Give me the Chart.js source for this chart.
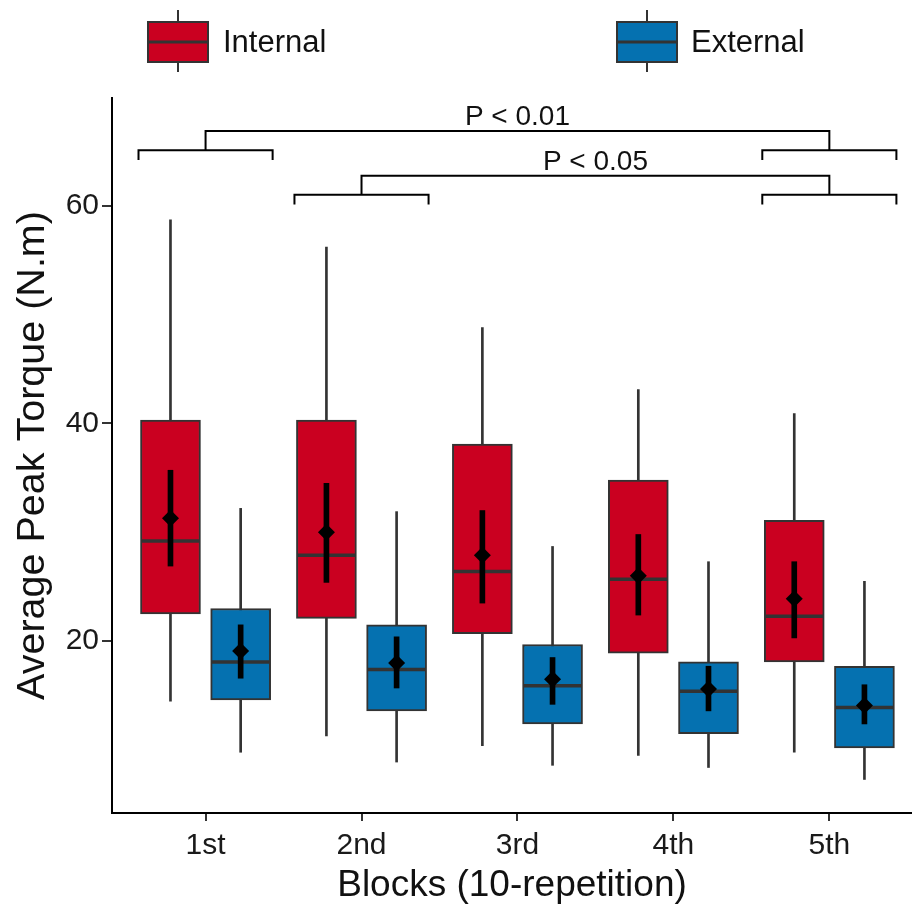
<!DOCTYPE html>
<html><head><meta charset="utf-8">
<script src="https://cdn.jsdelivr.net/npm/chart.js@4.4.1/dist/chart.umd.min.js"></script>
<style>html,body{margin:0;padding:0;background:#fff;overflow:hidden}</style>
</head><body>
<canvas id="c" width="912" height="911"></canvas>
<script>
// ---------- data ----------
const categories = ['1st', '2nd', '3rd', '4th', '5th'];
const groups = ['Internal', 'External'];
const yTicks = [20, 40, 60];

const internalWhiskerLow  = [14.5, 11.3, 10.4, 9.5, 9.8];
const internalQ1          = [22.5, 22.1, 20.7, 18.9, 18.1];
const internalMedian      = [29.2, 27.9, 26.4, 25.7, 22.3];
const internalQ3          = [40.3, 40.3, 38.1, 34.8, 31.1];
const internalWhiskerHigh = [58.7, 56.2, 48.8, 43.1, 40.9];
const internalMean        = [31.3, 30.0, 27.9, 26.0, 23.9];
const internalErrLow      = [26.9, 25.4, 23.5, 22.4, 20.3];
const internalErrHigh     = [35.7, 34.5, 32.0, 29.8, 27.3];

const externalWhiskerLow  = [9.8, 8.9, 8.6, 8.4, 7.3];
const externalQ1          = [14.6, 13.6, 12.4, 11.5, 10.2];
const externalMedian      = [18.1, 17.4, 15.9, 15.4, 13.9];
const externalQ3          = [23.0, 21.5, 19.7, 18.1, 17.7];
const externalWhiskerHigh = [32.2, 31.9, 28.7, 27.3, 25.5];
const externalMean        = [19.1, 18.0, 16.5, 15.6, 14.1];
const externalErrLow      = [16.6, 15.7, 14.2, 13.6, 12.4];
const externalErrHigh     = [21.5, 20.4, 18.5, 17.7, 16.0];

// significance comparisons (category indices) and labels / bracket levels
const sigFrom   = [0, 1];
const sigTo     = [4, 4];
const sigLabels = ['P < 0.01', 'P < 0.05'];
const sigLevels = [65.1, 61.0];

// ---------- styling / layout ----------
const FONT = "'Liberation Sans', Arial, Helvetica, sans-serif";
const COLORS = ['#CA0020', '#0571B0'];
const EDGE = '#333333';
const DODGE = 0.225;      // category units
const BRACKET_HALF = 0.43;
const TIP = 0.9, RISE = 1.75;

const seriesData = [
  {wl: internalWhiskerLow, q1: internalQ1, med: internalMedian, q3: internalQ3, wh: internalWhiskerHigh, mean: internalMean, el: internalErrLow, eh: internalErrHigh},
  {wl: externalWhiskerLow, q1: externalQ1, med: externalMedian, q3: externalQ3, wh: externalWhiskerHigh, mean: externalMean, el: externalErrLow, eh: externalErrHigh}
];

const datasets = [];
seriesData.forEach((s, g) => {
  const off = g === 0 ? -DODGE : DODGE;
  const xs = categories.map((_, i) => i + off);
  datasets.push({ type: 'bar', label: groups[g] + ' whisker', grouped: false, barThickness: 2,
    data: xs.map((x, i) => ({x, y: [s.wl[i], s.wh[i]]})), backgroundColor: EDGE, borderWidth: 0, order: 6 });
  datasets.push({ type: 'bar', label: groups[g], grouped: false, barThickness: 60,
    data: xs.map((x, i) => ({x, y: [s.q1[i], s.q3[i]]})), backgroundColor: COLORS[g],
    borderColor: EDGE, borderWidth: 2, borderSkipped: false, order: 5 });
  datasets.push({ type: 'line', label: groups[g] + ' median', showLine: false,
    data: xs.map((x, i) => ({x, y: s.med[i]})), pointStyle: 'line', pointRadius: 29,
    borderColor: EDGE, pointBorderColor: EDGE, pointBorderWidth: 3.5, order: 4 });
  datasets.push({ type: 'bar', label: groups[g] + ' error', grouped: false, barThickness: 5,
    data: xs.map((x, i) => ({x, y: [s.el[i], s.eh[i]]})), backgroundColor: '#000', borderWidth: 0, order: 3 });
  datasets.push({ type: 'line', label: groups[g] + ' mean', showLine: false,
    data: xs.map((x, i) => ({x, y: s.mean[i]})), pointStyle: 'rectRot', pointRadius: 8.5,
    pointBackgroundColor: '#000', pointBorderColor: '#000', pointBorderWidth: 0, order: 2 });
});

// significance brackets
sigFrom.forEach((a, k) => {
  const b = sigTo[k], h = sigLevels[k], top = h + RISE;
  const mk = (pts) => ({ type: 'line', label: 'sig', data: pts.map(p => ({x: p[0], y: p[1]})),
    borderColor: '#000', borderWidth: 2, pointRadius: 0, fill: false, tension: 0, order: 1, clip: false });
  datasets.push(mk([[a - BRACKET_HALF, h - TIP], [a - BRACKET_HALF, h], [a + BRACKET_HALF, h], [a + BRACKET_HALF, h - TIP]]));
  datasets.push(mk([[b - BRACKET_HALF, h - TIP], [b - BRACKET_HALF, h], [b + BRACKET_HALF, h], [b + BRACKET_HALF, h - TIP]]));
  datasets.push(mk([[a, h], [a, top], [b, top], [b, h]]));
});

const sigTextPlugin = {
  id: 'sigText',
  afterDatasetsDraw(chart) {
    const {ctx, scales: {x, y}} = chart;
    ctx.save();
    ctx.font = '28px ' + FONT;
    ctx.fillStyle = '#111';
    ctx.textAlign = 'center';
    ctx.textBaseline = 'alphabetic';
    sigFrom.forEach((a, k) => {
      const b = sigTo[k];
      const px = x.getPixelForValue((a + b) / 2);
      const py = y.getPixelForValue(sigLevels[k] + RISE) - 6;
      ctx.fillText(sigLabels[k], px, py);
    });
    ctx.restore();
  }
};

const legendPlugin = {
  id: 'customLegend',
  afterDraw(chart) {
    const ctx = chart.ctx;
    const keys = [{x: 148, tx: 223}, {x: 617, tx: 691}];
    ctx.save();
    groups.forEach((g, i) => {
      const k = keys[i];
      const w = 60, top = 22, h = 40, cx = k.x + w / 2;
      ctx.strokeStyle = EDGE; ctx.lineWidth = 2;
      ctx.beginPath(); ctx.moveTo(cx, 10); ctx.lineTo(cx, 72); ctx.stroke();
      ctx.fillStyle = COLORS[i];
      ctx.fillRect(k.x, top, w, h);
      ctx.strokeRect(k.x, top, w, h);
      ctx.lineWidth = 3;
      ctx.beginPath(); ctx.moveTo(k.x, top + h / 2); ctx.lineTo(k.x + w, top + h / 2); ctx.stroke();
      ctx.fillStyle = '#111';
      ctx.font = '31px ' + FONT;
      ctx.textBaseline = 'middle';
      ctx.textAlign = 'left';
      ctx.fillText(g, k.tx, top + h / 2 + 1);
    });
    ctx.restore();
  }
};

Chart.defaults.font.family = FONT;

new Chart(document.getElementById('c'), {
  type: 'bar',
  data: { datasets },
  options: {
    responsive: false,
    animation: false,
    events: [],
    layout: { autoPadding: false, padding: { top: 98, right: 0, left: 0, bottom: 0 } },
    plugins: { legend: { display: false }, tooltip: { enabled: false }, title: { display: false } },
    scales: {
      x: {
        type: 'linear', min: -0.6, max: 4.53, offset: false,
        afterBuildTicks: (s) => { s.ticks = categories.map((_, i) => ({value: i})); },
        afterFit: (s) => { s.height = 98; s.paddingLeft = 0; s.paddingRight = 0; },
        ticks: { callback: (v) => categories[v], autoSkip: false, maxRotation: 0, color: '#1a1a1a',
          font: { size: 30 }, padding: 7 },
        grid: { display: true, offset: false, drawOnChartArea: false, drawTicks: true, tickLength: 8, color: '#333', lineWidth: 2 },
        border: { display: true, color: '#000', width: 2 },
        title: { display: true, text: 'Blocks (10-repetition)', color: '#111', font: { size: 37 }, padding: { top: 0, bottom: 3 } }
      },
      y: {
        type: 'linear', min: 4.22, max: 69.89,
        afterBuildTicks: (s) => { s.ticks = yTicks.map(v => ({value: v})); },
        afterFit: (s) => { s.width = 112; s.paddingTop = 0; s.paddingBottom = 0; },
        ticks: { color: '#1a1a1a', font: { size: 30 }, padding: 3 },
        grid: { display: true, offset: false, drawOnChartArea: false, drawTicks: true, tickLength: 10, color: '#333', lineWidth: 2 },
        border: { display: true, color: '#000', width: 2 },
        title: { display: true, text: 'Average Peak Torque (N.m)', color: '#111', font: { size: 39.5 }, padding: { top: 9, bottom: 0 } }
      }
    }
  },
  plugins: [sigTextPlugin, legendPlugin]
});
</script>
</body></html>
